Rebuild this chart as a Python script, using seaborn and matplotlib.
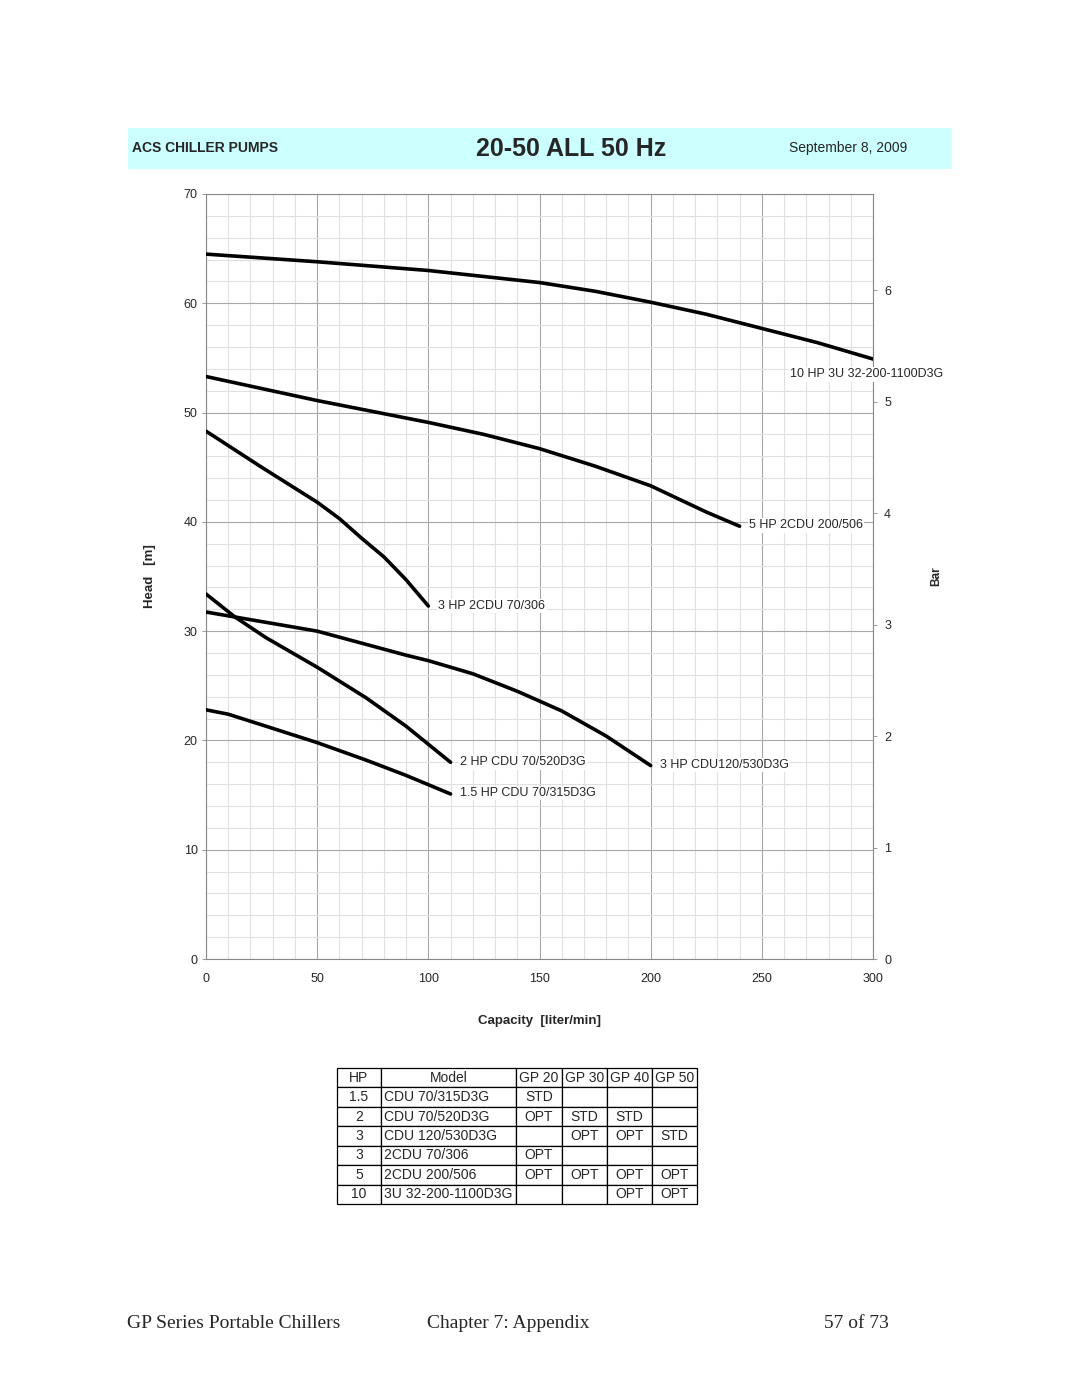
import matplotlib
matplotlib.use("Agg")
import matplotlib.pyplot as plt
import seaborn as sns
import pandas as pd
import numpy as np
from matplotlib.patches import Rectangle

sns.set_theme(style="white")
plt.rcParams['font.family'] = ['Liberation Sans', 'DejaVu Sans']

# ---------------- data ----------------
hp10_x = [0, 50, 100, 150, 175, 200, 225, 250, 275, 300]
hp10_y = [64.5, 63.8, 63.0, 61.9, 61.1, 60.1, 59.0, 57.7, 56.4, 54.9]

hp5_x = [0, 50, 100, 125, 150, 175, 200, 225, 240]
hp5_y = [53.3, 51.1, 49.1, 48.0, 46.7, 45.1, 43.3, 40.9, 39.6]

hp3b_x = [0, 25, 50, 60, 70, 80, 90, 100]
hp3b_y = [48.3, 45.0, 41.8, 40.3, 38.5, 36.8, 34.7, 32.3]

hp3a_x = [0, 50, 90, 100, 120, 140, 160, 180, 200]
hp3a_y = [31.75, 30.0, 27.8, 27.3, 26.1, 24.5, 22.7, 20.4, 17.7]

hp2_x = [0, 13, 27, 50, 72, 90, 110]
hp2_y = [33.4, 31.3, 29.4, 26.7, 23.9, 21.3, 18.0]

hp15_x = [0, 10, 27, 50, 72, 90, 110]
hp15_y = [22.8, 22.4, 21.3, 19.8, 18.2, 16.8, 15.1]

curve_names = ["10 HP 3U 32-200-1100D3G", "5 HP 2CDU 200/506", "3 HP 2CDU 70/306",
               "3 HP CDU120/530D3G", "2 HP CDU 70/520D3G", "1.5 HP CDU 70/315D3G"]

x_ticks = [0, 50, 100, 150, 200, 250, 300]
y_ticks = [0, 10, 20, 30, 40, 50, 60, 70]
bar_ticks = [0, 1, 2, 3, 4, 5, 6]

table_cols = ["HP", "Model", "GP 20", "GP 30", "GP 40", "GP 50"]
table_hp = ["1.5", "2", "3", "3", "5", "10"]
table_model = ["CDU 70/315D3G", "CDU 70/520D3G", "CDU 120/530D3G", "2CDU 70/306",
               "2CDU 200/506", "3U 32-200-1100D3G"]
table_gp20 = ["STD", "OPT", "", "OPT", "OPT", ""]
table_gp30 = ["", "STD", "OPT", "", "OPT", ""]
table_gp40 = ["", "STD", "OPT", "", "OPT", "OPT"]
table_gp50 = ["", "", "STD", "", "OPT", "OPT"]

# ---------------- figure ----------------
W, H = 1080, 1397
fig = plt.figure(figsize=(W / 100, H / 100), dpi=100)
fig.patch.set_facecolor("white")

def fx(px):
    return px / W

def fy(py):
    return 1 - py / H

# header band
fig.patches.append(Rectangle((fx(128), fy(169)), fx(952) - fx(128), fy(128) - fy(169),
                             transform=fig.transFigure, facecolor="#ccffff", edgecolor="none", zorder=0))
fig.text(fx(132), fy(148), "ACS CHILLER PUMPS", fontsize=10, fontweight="bold", va="center", ha="left")
fig.text(fx(571), fy(149), "20-50 ALL 50 Hz", fontsize=18, fontweight="bold", va="center", ha="center")
fig.text(fx(848), fy(148), "September 8, 2009", fontsize=10, va="center", ha="center")

# main axes
ax = fig.add_axes([fx(206), fy(959), fx(873) - fx(206), fy(194) - fy(959)])
ax.set_xlim(0, 300)
ax.set_ylim(0, 70)

curves = [(hp10_x, hp10_y), (hp5_x, hp5_y), (hp3b_x, hp3b_y),
          (hp3a_x, hp3a_y), (hp2_x, hp2_y), (hp15_x, hp15_y)]
for name, (xs, ys) in zip(curve_names, curves):
    df = pd.DataFrame({"x": xs, "y": ys})
    sns.lineplot(data=df, x="x", y="y", ax=ax, color="black", linewidth=2.6,
                 sort=False, estimator=None, zorder=5)

ax.set_xticks(x_ticks)
ax.set_yticks(y_ticks)
ax.set_xticks(np.arange(0, 301, 10), minor=True)
ax.set_yticks(np.arange(0, 71, 2), minor=True)
ax.grid(which="minor", color="#e0e0e0", linewidth=0.8)
ax.grid(which="major", color="#a8a8a8", linewidth=0.8)
ax.set_axisbelow(True)
ax.tick_params(axis="both", which="major", labelsize=9, length=3, width=0.6, color="#888888", pad=3)
ax.tick_params(axis="both", which="minor", length=0)
ax.tick_params(axis="x", pad=7)
for s in ax.spines.values():
    s.set_color("#888888")
    s.set_linewidth(0.8)
ax.set_xlabel("Capacity  [liter/min]", fontsize=9.5, fontweight="bold", labelpad=22)
ax.set_ylabel("Head   [m]", fontsize=9.5, fontweight="bold", labelpad=20)

# curve labels
label_pos = [(297, 53.5, "center"), (244.2, 39.7, "left"), (104.3, 32.3, "left"),
             (204.2, 17.75, "left"), (114.2, 18.0, "left"), (114.2, 15.2, "left")]
for name, (lx, ly, ha) in zip(curve_names, label_pos):
    ax.text(lx, ly, name, fontsize=9, ha=ha, va="center", zorder=6,
            bbox=dict(facecolor="white", edgecolor="none", pad=1))

# right axis in bar
ax2 = ax.twinx()
ax2.set_ylim(0, 70 / 10.2)
ax2.set_yticks(bar_ticks)
ax2.tick_params(axis="y", labelsize=9, length=3, width=0.6, color="#888888", pad=5)
ax2.grid(False)
for s in ax2.spines.values():
    s.set_visible(False)
ax2.set_ylabel("Bar", fontsize=8.5, fontweight="bold", labelpad=28)

# table
axt = fig.add_axes([fx(337), fy(1204), fx(697) - fx(337), fy(1068) - fy(1204)])
axt.axis("off")
rows = [list(r) for r in zip(table_hp, table_model, table_gp20, table_gp30, table_gp40, table_gp50)]
widths = np.array([44, 135, 46, 45, 45, 45], dtype=float)
tab = axt.table(cellText=rows, colLabels=table_cols, colWidths=list(widths / widths.sum()),
                bbox=[0, 0, 1, 1], cellLoc="center")
tab.auto_set_font_size(False)
for (r, c), cell in tab.get_celld().items():
    cell.set_fontsize(10)
    cell.set_linewidth(0.9)
    cell.set_edgecolor("black")
    if c == 1 and r > 0:
        cell.set_text_props(ha="left")
        cell.PAD = 0.02

# footer
fig.text(fx(127), fy(1323), "GP Series Portable Chillers", fontsize=14,
         family=["Liberation Serif", "DejaVu Serif"], va="center", ha="left")
fig.text(fx(508), fy(1323), "Chapter 7: Appendix", fontsize=14,
         family=["Liberation Serif", "DejaVu Serif"], va="center", ha="center")
fig.text(fx(889), fy(1323), "57 of 73", fontsize=14,
         family=["Liberation Serif", "DejaVu Serif"], va="center", ha="right")

fig.savefig("out.png", dpi=100, facecolor="white")
